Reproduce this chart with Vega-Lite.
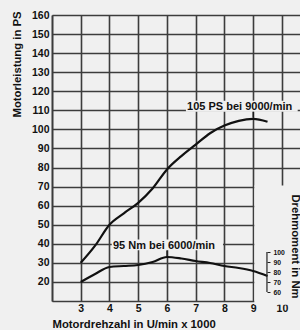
{
  "$schema": "https://vega.github.io/schema/vega-lite/v6.json",
  "width": 248,
  "height": 286,
  "autosize": {"type": "none"},
  "padding": {"left": 52, "top": 15, "right": 0, "bottom": 29},
  "background": "#f0f0f0",
  "config": {
    "view": {"stroke": null},
    "font": "Liberation Sans",
    "axisBottom": {
      "grid": true, "gridColor": "#3c3c3c", "gridWidth": 1.6, "gridOpacity": 1,
      "domainColor": "#3c3c3c", "domainWidth": 1.6,
      "ticks": false, "labelPadding": 2, "labelOverlap": false,
      "labelFontSize": 10.5, "labelFontWeight": "bold", "labelColor": "#111",
      "titleFontSize": 11.3, "titleFontWeight": "bold", "titleColor": "#111",
      "titleX": 0, "titleY": 23, "titleAlign": "left", "titleBaseline": "middle"
    },
    "axisLeft": {
      "grid": true, "gridColor": "#3c3c3c", "gridWidth": 1.6, "gridOpacity": 1,
      "domainColor": "#3c3c3c", "domainWidth": 1.6,
      "ticks": false, "labelPadding": 3, "labelOverlap": false,
      "labelFontSize": 10.5, "labelFontWeight": "bold", "labelColor": "#111",
      "titleFontSize": 11.3, "titleFontWeight": "bold", "titleColor": "#111",
      "titleAngle": -90, "titleX": -35, "titleY": 49, "titleAlign": "center", "titleBaseline": "middle"
    },
    "axisRight": {
      "grid": false, "domain": false, "offset": -33,
      "ticks": true, "tickSize": 3, "tickColor": "#222", "tickWidth": 1,
      "labelPadding": 3, "labelOverlap": false,
      "labelFontSize": 6.8, "labelFontWeight": "bold", "labelColor": "#111",
      "titleFontSize": 11.3, "titleFontWeight": "bold", "titleColor": "#111",
      "titleAngle": 90, "titleX": 27, "titleY": 231, "titleAlign": "center", "titleBaseline": "middle"
    }
  },
  "datasets": {
    "ps": [
      {"rpm": 3, "ps": 30}, {"rpm": 3.5, "ps": 39}, {"rpm": 4, "ps": 50}, {"rpm": 4.5, "ps": 56},
      {"rpm": 5, "ps": 61.5}, {"rpm": 5.5, "ps": 69}, {"rpm": 6, "ps": 79}, {"rpm": 6.5, "ps": 86},
      {"rpm": 7, "ps": 92}, {"rpm": 7.5, "ps": 98}, {"rpm": 8, "ps": 102}, {"rpm": 8.5, "ps": 104.5},
      {"rpm": 9, "ps": 105.5}, {"rpm": 9.5, "ps": 104}
    ],
    "nm": [
      {"rpm": 3, "nm": 70}, {"rpm": 3.5, "nm": 78}, {"rpm": 4, "nm": 85}, {"rpm": 4.5, "nm": 86},
      {"rpm": 5, "nm": 87}, {"rpm": 5.5, "nm": 90}, {"rpm": 6, "nm": 95}, {"rpm": 6.5, "nm": 93.5},
      {"rpm": 7, "nm": 91}, {"rpm": 7.5, "nm": 89}, {"rpm": 8, "nm": 86}, {"rpm": 8.5, "nm": 84},
      {"rpm": 9, "nm": 81}, {"rpm": 9.5, "nm": 76}
    ]
  },
  "layer": [
    {
      "layer": [
        {
          "data": {"name": "ps"},
          "mark": {"type": "line", "color": "#111", "strokeWidth": 2.2, "interpolate": "monotone"},
          "encoding": {
            "x": {"field": "rpm", "type": "quantitative", "scale": {"domain": [2, 10.63], "nice": false, "zero": false},
              "axis": {"orient": "bottom", "values": [2, 3, 4, 5, 6, 7, 8, 9, 10], "labelExpr": "datum.value < 2.5 ? '' : datum.label", "title": "Motordrehzahl in U/min x 1000"}},
            "y": {"field": "ps", "type": "quantitative", "scale": {"domain": [10, 160], "nice": false, "zero": false},
              "axis": {"orient": "left", "values": [20, 30, 40, 50, 60, 70, 80, 90, 100, 110, 120, 130, 140, 150, 160], "title": "Motorleistung in PS"}}
          }
        },
        {
          "data": {"values": [{}]},
          "mark": {"type": "rect", "color": "#f0f0f0"},
          "encoding": {
            "x": {"datum": 9.04, "type": "quantitative", "axis": {"orient": "bottom", "values": [2, 3, 4, 5, 6, 7, 8, 9, 10], "labelExpr": "datum.value < 2.5 ? '' : datum.label", "title": "Motordrehzahl in U/min x 1000"}},
            "x2": {"datum": 10.8},
            "y": {"datum": 8, "type": "quantitative", "axis": {"orient": "left", "values": [20, 30, 40, 50, 60, 70, 80, 90, 100, 110, 120, 130, 140, 150, 160], "title": "Motorleistung in PS"}},
            "y2": {"datum": 70.6}
          }
        },
        {
          "data": {"values": [{}]},
          "mark": {"type": "rect", "color": "#f0f0f0"},
          "encoding": {
            "x": {"datum": 6.66, "type": "quantitative", "axis": {"orient": "bottom", "values": [2, 3, 4, 5, 6, 7, 8, 9, 10], "labelExpr": "datum.value < 2.5 ? '' : datum.label", "title": "Motordrehzahl in U/min x 1000"}},
            "x2": {"datum": 10.55},
            "y": {"datum": 109.3, "type": "quantitative", "axis": {"orient": "left", "values": [20, 30, 40, 50, 60, 70, 80, 90, 100, 110, 120, 130, 140, 150, 160], "title": "Motorleistung in PS"}},
            "y2": {"datum": 115}
          }
        },
        {
          "data": {"values": [{}]},
          "mark": {"type": "rect", "color": "#f0f0f0"},
          "encoding": {
            "x": {"datum": 4.08, "type": "quantitative", "axis": {"orient": "bottom", "values": [2, 3, 4, 5, 6, 7, 8, 9, 10], "labelExpr": "datum.value < 2.5 ? '' : datum.label", "title": "Motordrehzahl in U/min x 1000"}},
            "x2": {"datum": 7.95},
            "y": {"datum": 36.6, "type": "quantitative", "axis": {"orient": "left", "values": [20, 30, 40, 50, 60, 70, 80, 90, 100, 110, 120, 130, 140, 150, 160], "title": "Motorleistung in PS"}},
            "y2": {"datum": 42.3}
          }
        },
        {
          "data": {"values": [{}]},
          "mark": {"type": "text", "align": "left", "baseline": "alphabetic", "fontSize": 11, "fontWeight": "bold", "color": "#111"},
          "encoding": {
            "x": {"datum": 6.7, "type": "quantitative", "axis": {"orient": "bottom", "values": [2, 3, 4, 5, 6, 7, 8, 9, 10], "labelExpr": "datum.value < 2.5 ? '' : datum.label", "title": "Motordrehzahl in U/min x 1000"}},
            "y": {"datum": 110, "type": "quantitative", "axis": {"orient": "left", "values": [20, 30, 40, 50, 60, 70, 80, 90, 100, 110, 120, 130, 140, 150, 160], "title": "Motorleistung in PS"}},
            "text": {"value": "105 PS bei 9000/min"}
          }
        },
        {
          "data": {"values": [{}]},
          "mark": {"type": "text", "align": "left", "baseline": "alphabetic", "fontSize": 11, "fontWeight": "bold", "color": "#111"},
          "encoding": {
            "x": {"datum": 4.12, "type": "quantitative", "axis": {"orient": "bottom", "values": [2, 3, 4, 5, 6, 7, 8, 9, 10], "labelExpr": "datum.value < 2.5 ? '' : datum.label", "title": "Motordrehzahl in U/min x 1000"}},
            "y": {"datum": 37.2, "type": "quantitative", "axis": {"orient": "left", "values": [20, 30, 40, 50, 60, 70, 80, 90, 100, 110, 120, 130, 140, 150, 160], "title": "Motorleistung in PS"}},
            "text": {"value": "95 Nm bei 6000/min"}
          }
        },
        {
          "data": {"values": [{}]},
          "mark": {"type": "rule", "color": "#111", "strokeWidth": 1.2},
          "encoding": {
            "x": {"datum": 9, "type": "quantitative", "axis": {"orient": "bottom", "values": [2, 3, 4, 5, 6, 7, 8, 9, 10], "labelExpr": "datum.value < 2.5 ? '' : datum.label", "title": "Motordrehzahl in U/min x 1000"}},
            "y": {"datum": 109.2, "type": "quantitative", "axis": {"orient": "left", "values": [20, 30, 40, 50, 60, 70, 80, 90, 100, 110, 120, 130, 140, 150, 160], "title": "Motorleistung in PS"}},
            "y2": {"datum": 106.3}
          }
        },
        {
          "data": {"values": [{}]},
          "mark": {"type": "rule", "color": "#111", "strokeWidth": 1.2},
          "encoding": {
            "x": {"datum": 6, "type": "quantitative", "axis": {"orient": "bottom", "values": [2, 3, 4, 5, 6, 7, 8, 9, 10], "labelExpr": "datum.value < 2.5 ? '' : datum.label", "title": "Motordrehzahl in U/min x 1000"}},
            "y": {"datum": 36.5, "type": "quantitative", "axis": {"orient": "left", "values": [20, 30, 40, 50, 60, 70, 80, 90, 100, 110, 120, 130, 140, 150, 160], "title": "Motorleistung in PS"}},
            "y2": {"datum": 33.3}
          }
        }
      ]
    },
    {
      "layer": [
        {
          "data": {"name": "nm"},
          "mark": {"type": "line", "color": "#111", "strokeWidth": 2.2, "interpolate": "monotone"},
          "encoding": {
            "x": {"field": "rpm", "type": "quantitative", "axis": {"orient": "bottom", "values": [2, 3, 4, 5, 6, 7, 8, 9, 10], "labelExpr": "datum.value < 2.5 ? '' : datum.label", "title": "Motordrehzahl in U/min x 1000"}},
            "y": {"field": "nm", "type": "quantitative", "scale": {"domain": [51, 337], "nice": false, "zero": false},
              "axis": {"orient": "right", "zindex": 1, "values": [60, 70, 80, 90, 100], "title": "Drehmoment in Nm"}}
          }
        },
        {
          "data": {"values": [{}]},
          "mark": {"type": "rule", "color": "#222", "strokeWidth": 1.2},
          "encoding": {
            "x": {"datum": 9.48, "type": "quantitative", "axis": {"orient": "bottom", "values": [2, 3, 4, 5, 6, 7, 8, 9, 10], "labelExpr": "datum.value < 2.5 ? '' : datum.label", "title": "Motordrehzahl in U/min x 1000"}},
            "y": {"datum": 60, "type": "quantitative", "axis": {"orient": "right", "zindex": 1, "values": [60, 70, 80, 90, 100], "title": "Drehmoment in Nm"}},
            "y2": {"datum": 100}
          }
        }
      ]
    }
  ],
  "resolve": {"scale": {"y": "independent"}}
}
